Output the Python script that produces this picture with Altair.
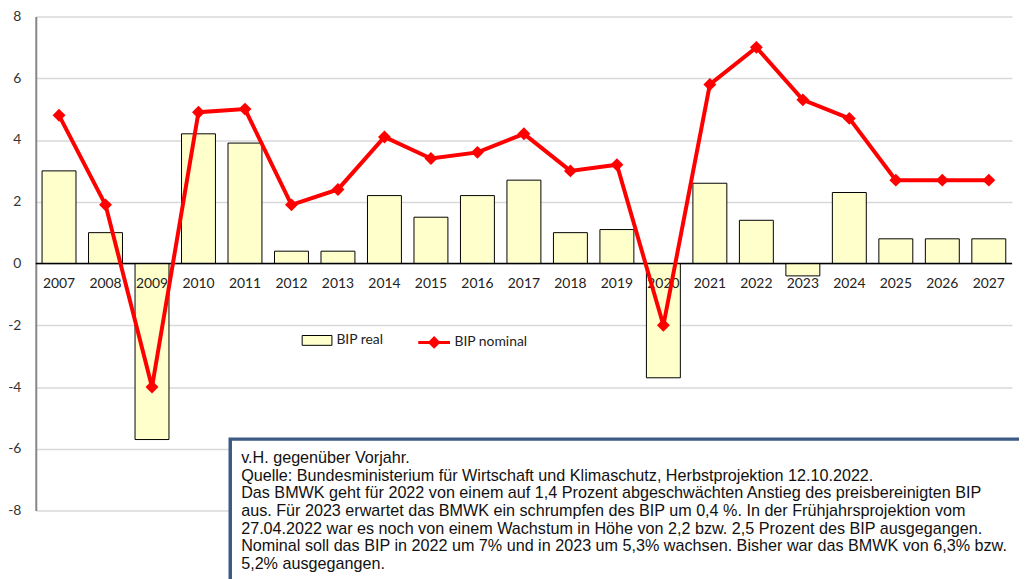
import altair as alt
import pandas as pd

years = [str(y) for y in range(2007, 2028)]
bip_real = [3.0, 1.0, -5.7, 4.2, 3.9, 0.4, 0.4, 2.2, 1.5, 2.2, 2.7, 1.0, 1.1,
            -3.7, 2.6, 1.4, -0.4, 2.3, 0.8, 0.8, 0.8]
bip_nominal = [4.8, 1.9, -4.0, 4.9, 5.0, 1.9, 2.4, 4.1, 3.4, 3.6, 4.2, 3.0, 3.2,
               -2.0, 5.8, 7.0, 5.3, 4.7, 2.7, 2.7, 2.7]
y_ticks = [-8, -6, -4, -2, 0, 2, 4, 6, 8]
series_names = ["BIP real", "BIP nominal"]
note_lines = [
    "v.H. gegenüber Vorjahr.",
    "Quelle: Bundesministerium für Wirtschaft und Klimaschutz, Herbstprojektion 12.10.2022.",
    "Das BMWK geht für 2022 von einem auf 1,4 Prozent abgeschwächten Anstieg des preisbereinigten BIP",
    "aus. Für 2023 erwartet das BMWK ein schrumpfen des BIP um 0,4 %. In der Frühjahrsprojektion vom",
    "27.04.2022 war es noch von einem Wachstum in Höhe von 2,2 bzw. 2,5 Prozent des BIP ausgegangen.",
    "Nominal soll das BIP in 2022 um 7% und in 2023 um 5,3% wachsen. Bisher war das BMWK von 6,3% bzw.",
    "5,2% ausgegangen.",
]
date_label = "07.10.2022"

df = pd.DataFrame({
    "Jahr": years,
    "real": bip_real,
    "nominal": bip_nominal,
    "s_real": series_names[0],
    "s_nom": series_names[1],
})

W, H = 984, 498
xenc = alt.X("Jahr:N", sort=years, axis=None,
             scale=alt.Scale(paddingInner=0.27, paddingOuter=0.135))
yscale = alt.Scale(domain=[-8, 8], nice=False)
base = alt.Chart(df)

bars = base.mark_bar(stroke="black", strokeWidth=1).encode(
    x=xenc,
    y=alt.Y("real:Q", scale=yscale,
            axis=alt.Axis(values=y_ticks, title=None, grid=True, gridColor="#d9d9d9",
                          gridWidth=1.5, domainColor="#868686", domainWidth=2,
                          ticks=False, labelPadding=15, labelFont="Lato",
                          labelFontSize=14, labelColor="#333333",
                          labelExpr="'' + datum.value")),
    fill=alt.Fill("s_real:N", scale=alt.Scale(range=["#ffffcc"]),
                  legend=alt.Legend(orient="none", legendX=268, legendY=311, title=None,
                                    padding=0, symbolType="M-1,-0.33H1V0.33H-1Z",
                                    symbolSize=900, symbolStrokeColor="black",
                                    symbolStrokeWidth=1, labelFont="Lato",
                                    labelFontSize=14, labelColor="#222222",
                                    labelOffset=4)),
)

zero = alt.Chart(pd.DataFrame({"z": [0]})).mark_rule(color="black", strokeWidth=1.5).encode(
    y=alt.Y("z:Q", scale=yscale))

labels = base.mark_text(dy=21, baseline="middle", font="Lato", fontSize=14,
                        color="#222222").encode(
    x=xenc, y=alt.datum(0), text="Jahr:N")

line = base.mark_line(strokeWidth=4).encode(
    x=xenc,
    y=alt.Y("nominal:Q", scale=yscale),
    stroke=alt.Stroke("s_nom:N", scale=alt.Scale(range=["#ff0000"]),
                      legend=alt.Legend(orient="none", legendX=384, legendY=311, title=None,
                                        padding=0,
                                        symbolType="M-1,0H1M0,-0.27L0.27,0L0,0.27L-0.27,0Z",
                                        symbolSize=1024, symbolStrokeWidth=3,
                                        symbolFillColor="#ff0000",
                                        labelFont="Lato", labelFontSize=14,
                                        labelColor="#222222", labelOffset=3)),
)

points = base.mark_point(shape="diamond", filled=True, size=170, color="#ff0000",
                         opacity=1).encode(x=xenc, y=alt.Y("nominal:Q", scale=yscale))

box = alt.Chart(pd.DataFrame({"a": [0]})).mark_rect(
    fill="white", stroke="#3d5a85", strokeWidth=3.5).encode(
    x=alt.value(196), x2=alt.value(1000), y=alt.value(426), y2=alt.value(640))

note = alt.Chart(pd.DataFrame({"a": [0]})).mark_text(
    align="left", baseline="alphabetic", lineBreak="\n", lineHeight=17.8,
    font="Liberation Sans", fontSize=16.3, color="#111111").encode(
    x=alt.value(207), y=alt.value(450), text=alt.value("\n".join(note_lines)))

date = alt.Chart(pd.DataFrame({"a": [0]})).mark_text(
    align="left", baseline="top", font="Lato", fontWeight="bold", fontSize=16,
    color="#222222").encode(x=alt.value(-1), y=alt.value(565), text=alt.value(date_label))

chart = alt.layer(bars, zero, labels, line, points, box, note, date).properties(
    width=W, height=H,
    autosize=alt.AutoSizeParams(type="none"),
    padding={"left": 28, "top": 6, "right": 7, "bottom": 140},
).configure_view(stroke=None)

chart.save("out.html", embed_options={"renderer": "svg", "actions": False})
